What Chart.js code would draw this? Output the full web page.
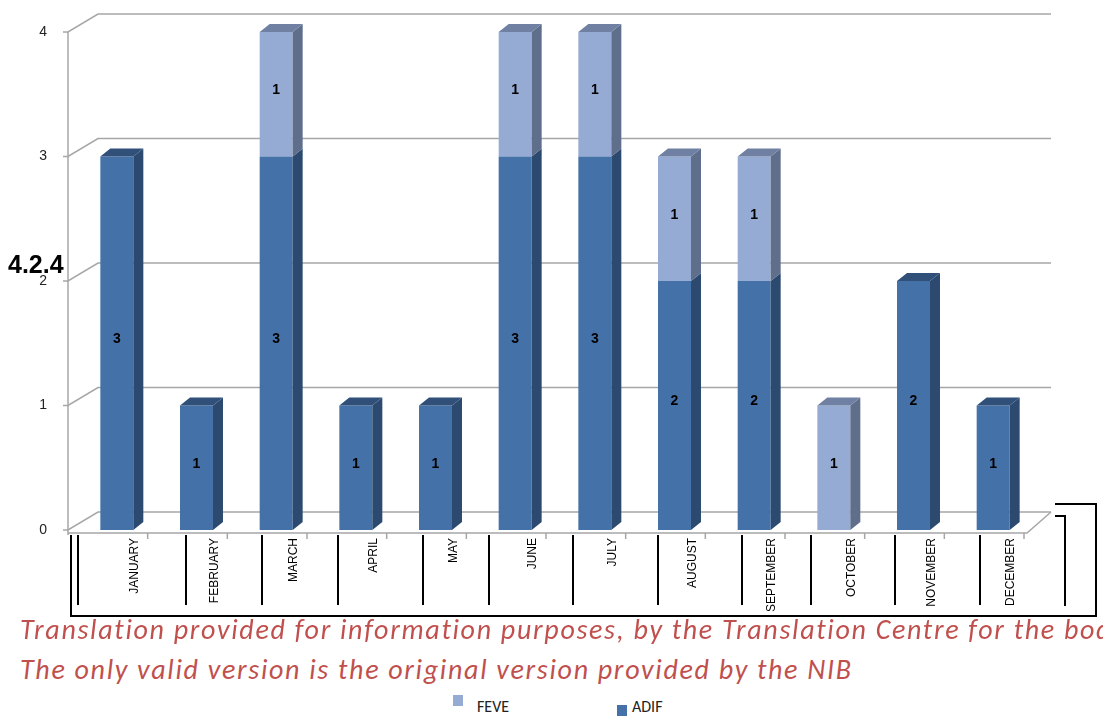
<!DOCTYPE html>
<html>
<head>
<meta charset="utf-8">
<script src="https://cdn.jsdelivr.net/npm/chart.js@4.4.1/dist/chart.umd.min.js"></script>
<style>
  html, body { margin: 0; padding: 0; background: #fff; }
  body { width: 1103px; height: 720px; position: relative; overflow: hidden; font-family: Carlito, Lato, "Liberation Sans", sans-serif; }
  #chart-box { position: absolute; left: 0; top: 0; width: 1103px; height: 620px; }
  .sep { position: absolute; top: 535px; width: 0; height: 70px; border-left: 2px solid #000; }
  .frame { position: absolute; box-sizing: border-box; }
  #title { position: absolute; left: 8px; top: 250px; font: bold 25px "Liberation Sans", Arial, sans-serif; color: #000; }
  .note { position: absolute; left: 20px; white-space: nowrap; font-style: italic; font-size: 28px; letter-spacing: 1.7px; color: #c0504d; }
  .legend-item { position: absolute; font-size: 16px; color: #222; }
  .swatch { position: absolute; width: 10px; height: 11px; }
</style>
</head>
<body>
<div id="chart-box"><canvas id="chart"></canvas></div>

<div class="frame" style="left:70px; top:535px; width:1026px; height:82px; border-left:2px solid #000; border-bottom:2px solid #000;"></div>
<div class="frame" style="left:1055px; top:503px; width:42px; height:114px; border-top:2px solid #000; border-right:2px solid #000;"></div>
<div class="frame" style="left:1055px; top:515px; width:11px; height:91px; border-top:2px solid #000; border-right:2px solid #000;"></div>
<div id="seps"></div>

<div id="title">4.2.4</div>
<div class="note" style="top:612px;">Translation provided for information purposes, by the Translation Centre for the bodies of the European Union</div>
<div class="note" style="top:652px;">The only valid version is the original version provided by the NIB</div>

<div id="legend"></div>

<script>
// --- DATOS ---
const months = ['JANUARY', 'FEBRUARY', 'MARCH', 'APRIL', 'MAY', 'JUNE', 'JULY', 'AUGUST', 'SEPTEMBER', 'OCTOBER', 'NOVEMBER', 'DECEMBER'];
const adifValues = [3, 1, 3, 1, 1, 3, 3, 2, 2, 0, 2, 1];
const feveValues = [0, 0, 1, 0, 0, 1, 1, 1, 1, 1, 0, 0];
const yTicks = [0, 1, 2, 3, 4];

// --- COLORES ---
const adifColors = { front: '#4571a9', side: '#2c4a6f', top: '#30507a' };
const feveColors = { front: '#95abd3', side: '#5e6e8b', top: '#6f80a2' };

// table borders under the axis (from the original document)
const separatorX = [78, 186, 262, 338, 423, 489, 573, 658, 742, 811, 895, 980];
const sepsEl = document.getElementById('seps');
separatorX.forEach(x => {
    const d = document.createElement('div');
    d.className = 'sep';
    d.style.left = (x - 1) + 'px';
    sepsEl.appendChild(d);
});

// depth of the fake 3D look
const BAR_DX = 10, BAR_DY = -8;
const WALL_DX = 30, WALL_DY = -18;

const pseudo3d = {
    id: 'pseudo3d',
    beforeDatasetsDraw(chart) {
        const { ctx, chartArea, scales } = chart;
        const y = scales.y;
        const axisX = chartArea.left - 9;
        const backRight = chartArea.right + 18;
        ctx.save();
        ctx.strokeStyle = '#a6a6a6';
        ctx.lineWidth = 1.5;
        yTicks.forEach(v => {
            const py = y.getPixelForValue(v);
            ctx.beginPath();
            ctx.moveTo(axisX - 5, py);
            ctx.lineTo(axisX, py);
            ctx.lineTo(axisX + WALL_DX, py + WALL_DY);
            ctx.lineTo(backRight, py + WALL_DY);
            ctx.stroke();
        });
        // left axis
        ctx.beginPath();
        ctx.moveTo(axisX, y.getPixelForValue(4));
        ctx.lineTo(axisX, chartArea.bottom + 5);
        ctx.stroke();
        // floor front edge
        const floorY = chartArea.bottom + 3;
        ctx.beginPath();
        ctx.moveTo(axisX, floorY);
        ctx.lineTo(chartArea.right - 6, floorY);
        ctx.lineTo(backRight, y.getPixelForValue(0) + WALL_DY);
        ctx.stroke();
        // small ticks under the floor
        const step = scales.x.getPixelForValue(1) - scales.x.getPixelForValue(0);
        months.forEach((m, i) => {
            const px = scales.x.getPixelForValue(i) + step / 2 - 9;
            ctx.beginPath();
            ctx.moveTo(px, floorY);
            ctx.lineTo(px, floorY + 6);
            ctx.stroke();
        });
        ctx.restore();
    },
    afterDatasetsDraw(chart) {
        const { ctx } = chart;
        const metas = [chart.getDatasetMeta(0), chart.getDatasetMeta(1)];
        const palettes = [adifColors, feveColors];
        const series = [adifValues, feveValues];
        ctx.save();
        months.forEach((m, i) => {
            let topIdx = -1;
            series.forEach((s, d) => { if (s[i] > 0) topIdx = d; });
            series.forEach((s, d) => {
                if (!s[i]) return;
                const bar = metas[d].data[i];
                const left = bar.x - bar.width / 2;
                const right = bar.x + bar.width / 2;
                // side face
                ctx.fillStyle = palettes[d].side;
                ctx.beginPath();
                ctx.moveTo(right, bar.base);
                ctx.lineTo(right + BAR_DX, bar.base + BAR_DY);
                ctx.lineTo(right + BAR_DX, bar.y + BAR_DY);
                ctx.lineTo(right, bar.y);
                ctx.closePath();
                ctx.fill();
                if (d === topIdx) {
                    ctx.fillStyle = palettes[d].top;
                    ctx.beginPath();
                    ctx.moveTo(left, bar.y);
                    ctx.lineTo(left + BAR_DX, bar.y + BAR_DY);
                    ctx.lineTo(right + BAR_DX, bar.y + BAR_DY);
                    ctx.lineTo(right, bar.y);
                    ctx.closePath();
                    ctx.fill();
                }
                // value label
                ctx.fillStyle = '#000';
                ctx.font = 'bold 14px "Liberation Sans", Arial, sans-serif';
                ctx.textAlign = 'center';
                ctx.textBaseline = 'middle';
                ctx.fillText(String(s[i]), bar.x, (bar.y + bar.base) / 2 - 4);
            });
        });
        ctx.restore();
    }
};

new Chart(document.getElementById('chart'), {
    type: 'bar',
    data: {
        labels: months,
        datasets: [
            { label: 'ADIF', data: adifValues, backgroundColor: adifColors.front, borderWidth: 0 },
            { label: 'FEVE', data: feveValues, backgroundColor: feveColors.front, borderWidth: 0 }
        ]
    },
    options: {
        responsive: true,
        maintainAspectRatio: false,
        animation: false,
        layout: { padding: { top: 32, right: 70, left: 0, bottom: 0 } },
        categoryPercentage: 1,
        barPercentage: 0.414,
        plugins: {
            legend: { display: false },
            tooltip: { enabled: false }
        },
        scales: {
            x: {
                stacked: true,
                border: { display: false },
                grid: { display: false, drawTicks: false },
                afterFit(scale) { scale.height = 90; },
                ticks: {
                    minRotation: 90,
                    maxRotation: 90,
                    autoSkip: false,
                    padding: 8,
                    labelOffset: 18,
                    color: '#000',
                    font: { family: '"Liberation Sans", Arial, sans-serif', size: 12 }
                }
            },
            y: {
                stacked: true,
                min: 0,
                max: 4,
                border: { display: false },
                grid: { display: false, drawTicks: false },
                afterFit(scale) {
                    scale.width = 77;
                    scale.paddingTop = 0;
                    scale.paddingBottom = 0;
                },
                ticks: {
                    stepSize: 1,
                    padding: 30,
                    color: '#222',
                    font: { family: '"Liberation Sans", Arial, sans-serif', size: 14 }
                }
            }
        }
    },
    plugins: [pseudo3d]
});

// leyenda manual (FEVE primero, como en el original)
const legendEl = document.getElementById('legend');
[
    { name: 'FEVE', color: feveColors.front, box: [453, 695], text: [477, 697] },
    { name: 'ADIF', color: adifColors.front, box: [617, 705], text: [632, 697] }
].forEach(item => {
    const sw = document.createElement('div');
    sw.className = 'swatch';
    sw.style.left = item.box[0] + 'px';
    sw.style.top = item.box[1] + 'px';
    sw.style.background = item.color;
    legendEl.appendChild(sw);
    const tx = document.createElement('div');
    tx.className = 'legend-item';
    tx.style.left = item.text[0] + 'px';
    tx.style.top = item.text[1] + 'px';
    tx.textContent = item.name;
    legendEl.appendChild(tx);
});
</script>
</body>
</html>
